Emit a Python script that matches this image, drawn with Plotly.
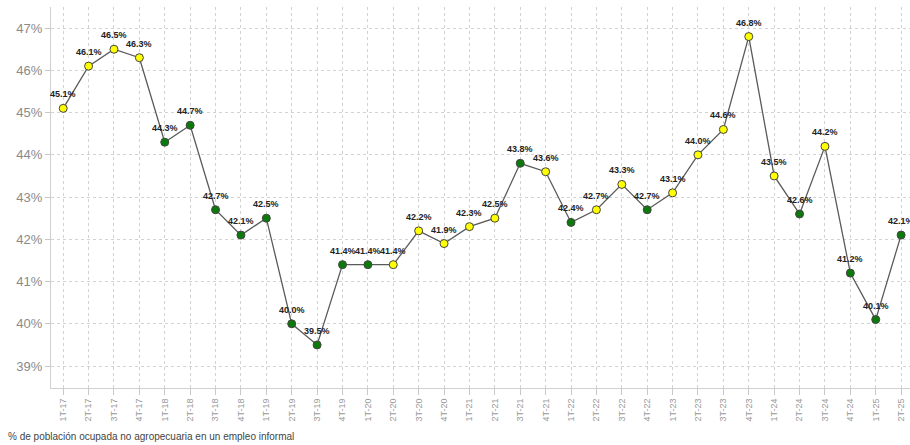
import plotly.graph_objects as go

quarters = ["1T-17","2T-17","3T-17","4T-17","1T-18","2T-18","3T-18","4T-18",
            "1T-19","2T-19","3T-19","4T-19","1T-20","2T-20","3T-20","4T-20",
            "1T-21","2T-21","3T-21","4T-21","1T-22","2T-22","3T-22","4T-22",
            "1T-23","2T-23","3T-23","4T-23","1T-24","2T-24","3T-24","4T-24",
            "1T-25","2T-25"]
values = [45.1,46.1,46.5,46.3,44.3,44.7,42.7,42.1,
          42.5,40.0,39.5,41.4,41.4,41.4,42.2,41.9,
          42.3,42.5,43.8,43.6,42.4,42.7,43.3,42.7,
          43.1,44.0,44.6,46.8,43.5,42.6,44.2,41.2,
          40.1,42.1]
# Y = yellow marker, G = green marker
marker_kind = ["Y","Y","Y","Y","G","G","G","G",
               "G","G","G","G","G","Y","Y","Y",
               "Y","Y","G","Y","G","Y","Y","G",
               "Y","Y","Y","Y","Y","G","Y","G",
               "G","G"]
y_ticks = [39, 40, 41, 42, 43, 44, 45, 46, 47]
caption = "% de población ocupada no agropecuaria en un empleo informal"

color_map = {"Y": "#ffff00", "G": "#0b7a0b"}
colors = [color_map[k] for k in marker_kind]
labels = [f"{v:.1f}%" for v in values]

fig = go.Figure()
fig.add_trace(go.Scatter(
    x=quarters, y=values, mode="lines+markers",
    line=dict(color="#5a5a5a", width=1.3),
    marker=dict(size=8, color=colors, line=dict(color="#444444", width=1)),
    cliponaxis=False, hoverinfo="x+y", showlegend=False,
))

annotations = [dict(
    x=q, y=v, text=t, xref="x", yref="y", showarrow=False,
    yshift=14, xanchor="center", yanchor="middle",
    font=dict(family="Liberation Sans, Arial, sans-serif", size=9, color="#222222", weight="bold"),
) for q, v, t in zip(quarters, values, labels)]

annotations.append(dict(
    text=caption, xref="paper", yref="paper", x=-51/859, y=0,
    xanchor="left", yanchor="bottom", yshift=-56, xshift=6, showarrow=False,
    font=dict(size=10, color="#444444"),
))

fig.update_layout(
    width=910, height=445,
    margin=dict(l=51, r=0, t=7, b=57),
    paper_bgcolor="white", plot_bgcolor="white",
    font=dict(family="Liberation Sans, Arial, sans-serif"),
    xaxis=dict(
        type="category", range=[-0.48, 33.35],
        showgrid=True, gridcolor="#d2d2d2", griddash="dot", gridwidth=1,
        showline=True, linecolor="#d0d0d0", linewidth=1,
        ticks="outside", ticklen=6, tickcolor="#c8c8c8",
        tickangle=-90, tickfont=dict(size=9, color="#999999"),
        zeroline=False,
    ),
    yaxis=dict(
        range=[38.48, 47.5], tickvals=y_ticks,
        ticktext=[f"{t}%" for t in y_ticks],
        showgrid=True, gridcolor="#d2d2d2", griddash="dot", gridwidth=1,
        showline=True, linecolor="#d0d0d0", linewidth=1,
        ticks="outside", ticklen=5, tickcolor="#c8c8c8",
        tickfont=dict(size=13, color="#8a8a8a"),
        zeroline=False,
    ),
    annotations=annotations,
)

fig.write_html("out.html", config={"displayModeBar": False},
               post_script="document.body.style.margin='0';document.body.style.overflow='hidden';")
